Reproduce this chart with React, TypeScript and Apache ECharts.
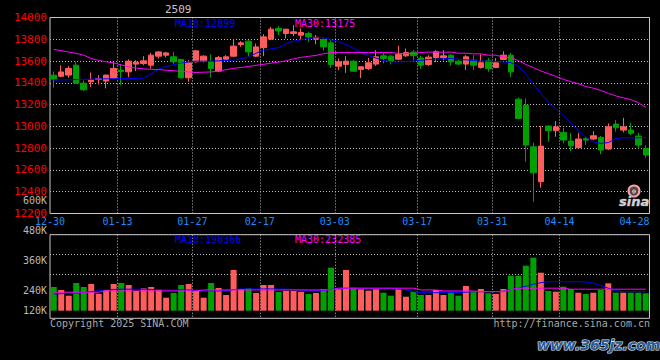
import React, { useEffect, useRef } from 'react';
import * as echarts from 'echarts';

const dates = [
  '12-30','12-31','01-02','01-03','01-06','01-07','01-08','01-09','01-10','01-13',
  '01-14','01-15','01-16','01-17','01-20','01-21','01-22','01-23','01-24','01-27',
  '02-05','02-06','02-07','02-10','02-11','02-12','02-13','02-14','02-17','02-18',
  '02-19','02-20','02-21','02-24','02-25','02-26','02-27','02-28','03-03','03-04',
  '03-05','03-06','03-07','03-10','03-11','03-12','03-13','03-14','03-17','03-18',
  '03-19','03-20','03-21','03-24','03-25','03-26','03-27','03-28','03-31','04-01',
  '04-02','04-03','04-07','04-08','04-09','04-10','04-11','04-14','04-15','04-16',
  '04-17','04-18','04-21','04-22','04-23','04-24','04-25','04-28','04-29','04-30',
];

const opens = [
  13470,13460,13471,13562,13397,13409,13431,13416,13440,13517,
  13501,13572,13578,13562,13645,13654,13639,13615,13446,13593,
  13599,13593,13507,13617,13645,13752,13783,13645,13723,13801,
  13899,13853,13853,13838,13853,13801,13798,13767,13553,13569,
  13599,13523,13532,13572,13648,13645,13617,13648,13682,13627,
  13569,13631,13631,13654,13599,13572,13608,13541,13602,13541,
  13615,13654,13250,13195,12813,12492,13003,12960,12945,12865,
  12804,12886,12884,12899,12792,13021,12966,12966,12911,12798,
];
const closes = [
  13435,13500,13532,13397,13336,13425,13440,13471,13532,13503,
  13599,13590,13602,13654,13684,13675,13593,13446,13584,13694,
  13645,13532,13633,13639,13737,13767,13684,13730,13822,13893,
  13877,13893,13868,13862,13822,13819,13730,13569,13593,13599,
  13507,13547,13584,13639,13624,13602,13661,13679,13650,13562,
  13636,13686,13648,13593,13572,13639,13562,13584,13532,13584,
  13654,13501,13073,12828,12574,12819,12960,12996,12874,12822,
  12884,12874,12914,12783,12996,12987,12996,12936,12828,12737,
];
const lows = [
  13355,13450,13446,13395,13324,13363,13385,13349,13436,13379,
  13452,13507,13562,13532,13624,13633,13572,13440,13409,13585,
  13587,13448,13498,13608,13636,13730,13645,13639,13645,13792,
  13838,13807,13831,13792,13776,13755,13694,13538,13517,13492,
  13501,13443,13517,13556,13578,13569,13608,13639,13608,13529,
  13556,13590,13608,13556,13562,13517,13517,13532,13501,13535,
  13608,13455,13067,12675,12308,12437,12859,12905,12844,12773,
  12800,12828,12874,12746,12783,12951,12945,12920,12798,12712,
];
const highs = [
  13505,13560,13553,13593,13422,13495,13470,13475,13593,13572,
  13615,13608,13645,13675,13690,13684,13684,13620,13608,13700,
  13654,13661,13648,13654,13801,13783,13790,13761,13847,13914,
  13920,13895,13929,13899,13868,13838,13807,13792,13624,13645,
  13608,13550,13629,13700,13679,13654,13740,13716,13700,13648,
  13654,13700,13700,13663,13608,13654,13654,13663,13627,13627,
  13691,13675,13266,13257,12850,13003,13010,13049,12987,12941,
  12941,12905,12957,12911,13028,13058,13079,13033,12941,12828,
];
const ma10 = [
  13425,13427,13428,13430,13432,13434,13436,13437,13438,13439,
  13439,13440,13443,13484,13526,13549,13567,13581,13592,13599,
  13599,13599,13602,13606,13608,13622,13638,13672,13700,13712,
  13723,13760,13783,13796,13808,13814,13815,13796,13780,13752,
  13718,13680,13650,13627,13606,13593,13593,13595,13599,13606,
  13614,13617,13621,13624,13617,13611,13605,13599,13599,13596,
  13593,13585,13553,13480,13388,13303,13223,13159,13099,13030,
  12960,12902,12859,12844,12851,12888,12895,12895,12895,12899,
];
const ma30 = [
  13708,13695,13683,13670,13654,13624,13606,13593,13583,13565,
  13546,13535,13528,13524,13522,13516,13511,13506,13500,13495,
  13498,13500,13507,13521,13533,13541,13550,13561,13570,13581,
  13590,13602,13621,13634,13643,13652,13668,13677,13679,13679,
  13679,13679,13679,13679,13679,13679,13670,13670,13670,13679,
  13682,13682,13682,13682,13672,13672,13666,13666,13654,13654,
  13636,13633,13604,13569,13539,13509,13484,13459,13432,13411,
  13392,13366,13351,13330,13304,13280,13262,13246,13218,13175,
];
const volumes = [
  254800,242800,220000,270800,254800,266800,226800,242800,266800,270800,
  262800,238800,249600,254800,245600,212000,230800,262800,266800,238800,
  212000,270800,250800,222800,322800,246800,249600,230800,262800,262800,
  234800,238800,238800,234800,226800,230800,246800,332000,245600,322800,
  252000,245600,240000,245600,232000,220000,245600,216000,236000,222800,
  222800,242800,222800,236000,220000,258800,238800,246800,229600,226800,
  246800,300000,300000,340000,372000,312000,238800,236000,256000,246800,
  232000,226800,232000,242800,269600,232000,232000,232000,232000,229600,
];
const volMa10 = [
  227000,228000,230000,231000,233000,236000,240000,244000,245000,246000,
  246000,246000,246000,245000,244000,243000,243000,243000,243000,242000,
  240000,239000,239000,240000,244000,247000,247000,247000,247000,247000,
  247000,246000,245000,242000,240000,240000,241000,245000,250000,250000,
  250000,250000,250000,250000,250000,250000,248000,244000,236000,232000,
  232000,232000,232000,232000,233000,234000,236000,236000,236000,236000,
  238000,244000,250000,258000,266000,272000,276000,276000,276000,276000,
  276000,275000,270000,260000,250000,240000,236000,236000,236000,236000,
];
const volMa30 = [
  234000,234000,234000,234000,234000,234000,234000,239000,239000,239000,
  239000,239000,239000,239000,239000,239000,239000,239000,239000,239000,
  243000,243000,243000,243000,243000,243000,243000,243000,243000,243000,
  243000,243000,243000,243000,243000,243000,243000,243000,250000,250000,
  250000,250000,250000,250000,250000,250000,250000,250000,250000,243000,
  243000,243000,239000,239000,239000,239000,239000,236000,236000,236000,
  236000,244000,250000,250000,250000,250000,250000,250000,250000,246000,
  246000,246000,246000,246000,246000,246000,246000,246000,246000,246000,
];

const xTickIndex = [0, 9, 19, 28, 38, 49, 59, 68, 78];
const xTickLabels = ['12-30', '01-13', '01-27', '02-17', '03-03', '03-17', '03-31', '04-14', '04-28'];
const gridLineIndex = [9, 19, 28, 38, 49, 59, 68];
const volTickValues = [120000, 240000, 360000, 480000, 600000];
const volTickLabels = ['120K', '240K', '360K', '480K', '600K'];
const titleText = '2509';
const priceLegend = ['MA10:12899', 'MA30:13175'];
const volumeLegend = ['MA10:190366', 'MA30:232385'];
const footerLeft = 'Copyright 2025 SINA.COM';
const footerRight = 'http://finance.sina.com.cn';
const watermark = 'www.365jz.com';

export default function App() {
  const ref = useRef<HTMLDivElement>(null);
  useEffect(() => {
    document.body.style.margin = '0';
    document.body.style.background = '#000';
    const chart = echarts.init(ref.current!, null, { renderer: 'svg' });
    const mono = '"DejaVu Sans Mono", monospace';
    const upColor = '#ff5c5c';
    const downColor = '#00a000';
    const dotted = { show: true, lineStyle: { color: '#bdbdbd', type: [1, 2], width: 1 } };
    const candleData = opens.map((o, i) => [o, closes[i], lows[i], highs[i]]);
    const volData = volumes.map((v, i) => ({
      value: v,
      itemStyle: { color: closes[i] >= opens[i] ? upColor : downColor },
    }));
    const L = 50;
    const W = 599.5;
    const txt = (text: string, x: number, y: number, fill: string, font: string, align = 'left') => ({
      type: 'text', x, y, silent: true,
      style: { text, fill, font, align, verticalAlign: 'middle', textAlign: align, textVerticalAlign: 'middle' },
    });

    const option: any = {
      animation: false,
      backgroundColor: '#000',
      grid: [
        { left: L, top: 17.5, width: W, height: 196, show: true, borderColor: '#c8c8c8', borderWidth: 1, backgroundColor: 'transparent' },
        { left: L, top: 234.7, width: W, height: 76 },
        { left: L, top: 234.7, width: W, height: 83.6, show: true, borderColor: '#c8c8c8', borderWidth: 1, backgroundColor: 'transparent' },
        { left: L, top: 234.7, width: W, height: 40 },
        { left: L, top: 200.7, width: W, height: 150 },
      ],
      xAxis: [
        {
          type: 'category', gridIndex: 0, data: dates, boundaryGap: true,
          axisLine: { show: false }, axisTick: { show: false },
          axisLabel: {
            interval: (i: number) => xTickIndex.includes(i),
            formatter: (_v: string, i: number) => {
              const k = xTickIndex.indexOf(i);
              return k >= 0 ? xTickLabels[k] : '';
            },
            color: '#1a8cff', fontFamily: mono, fontSize: 10, margin: 3, padding: [0, 7.5, 0, 0],
          },
          splitLine: { ...dotted, interval: (i: number) => gridLineIndex.includes(i) },
        },
        { type: 'category', gridIndex: 1, data: dates, boundaryGap: true, show: false },
        {
          type: 'category', gridIndex: 2, data: dates, boundaryGap: true,
          axisLine: { show: false }, axisTick: { show: false }, axisLabel: { show: false },
          splitLine: { ...dotted, interval: (i: number) => gridLineIndex.includes(i) },
        },
        { type: 'value', gridIndex: 3, show: false, min: 0, max: 1 },
        { type: 'value', gridIndex: 4, show: false, min: 0, max: 1 },
      ],
      yAxis: [
        {
          type: 'value', gridIndex: 0, min: 12200, max: 14000, interval: 200,
          axisLine: { show: false }, axisTick: { show: false },
          axisLabel: {
            color: '#ff0000', fontFamily: mono, fontSize: 11, margin: 3, padding: [0, 0, 3, 0],
            formatter: (v: number) => String(v),
          },
          splitLine: dotted,
        },
        { type: 'value', gridIndex: 1, min: 160000, max: 464000, show: false },
        { type: 'value', gridIndex: 2, min: 0, max: 1, show: false },
        {
          type: 'value', gridIndex: 3, min: 0, max: 2, interval: 1,
          axisLine: { show: false }, axisTick: { show: false }, axisLabel: { show: false },
          splitLine: dotted,
        },
        {
          type: 'value', gridIndex: 4, min: 0, max: 600000, interval: 120000,
          axisLine: { show: false }, axisTick: { show: false }, splitLine: { show: false },
          axisLabel: {
            color: '#b8b8b8', fontFamily: mono, fontSize: 10, margin: 3,
            formatter: (v: number) => {
              const k = volTickValues.indexOf(v);
              if (k < 0) return '';
              if (v === 120000) return '{up|' + volTickLabels[k] + '}';
              return volTickLabels[k];
            },
            rich: { up: { color: '#b8b8b8', fontFamily: mono, fontSize: 10, padding: [0, 0, 20, 0] } },
          },
        },
      ],
      series: [
        {
          type: 'candlestick', xAxisIndex: 0, yAxisIndex: 0, data: candleData, barWidth: 6,
          itemStyle: { color: upColor, color0: downColor, borderColor: upColor, borderColor0: downColor, borderWidth: 1 },
        },
        {
          type: 'line', xAxisIndex: 0, yAxisIndex: 0, data: ma10, symbol: 'none', showSymbol: false,
          lineStyle: { color: '#0000ff', width: 1 }, itemStyle: { color: '#0000ff' },
        },
        {
          type: 'line', xAxisIndex: 0, yAxisIndex: 0, data: ma30, symbol: 'none', showSymbol: false,
          lineStyle: { color: '#ff00ff', width: 1 }, itemStyle: { color: '#ff00ff' },
        },
        { type: 'bar', xAxisIndex: 1, yAxisIndex: 1, data: volData, barWidth: 6 },
        {
          type: 'line', xAxisIndex: 1, yAxisIndex: 1, data: volMa10, symbol: 'none', showSymbol: false,
          lineStyle: { color: '#0000ff', width: 1 }, itemStyle: { color: '#0000ff' },
        },
        {
          type: 'line', xAxisIndex: 1, yAxisIndex: 1, data: volMa30, symbol: 'none', showSymbol: false,
          lineStyle: { color: '#ff00ff', width: 1 }, itemStyle: { color: '#ff00ff' },
        },
      ],
      graphic: [
        txt(titleText, 165, 9, '#c8c8c8', '11px ' + mono),
        txt(priceLegend[0], 175, 23.5, '#0000ff', '10px ' + mono),
        txt(priceLegend[1], 295, 23.5, '#ff00ff', '10px ' + mono),
        txt(volumeLegend[0], 175, 239, '#0000ff', '10px ' + mono),
        txt(volumeLegend[1], 295, 239, '#ff00ff', '10px ' + mono),
        txt(footerLeft, 50, 323.5, '#a8a8a8', '10px ' + mono),
        txt(footerRight, 650, 323.5, '#a8a8a8', '10px ' + mono, 'right'),
        {
          type: 'text', x: 537, y: 345, silent: true,
          style: {
            text: watermark, fill: '#2b5c98', stroke: '#dfe8f2', lineWidth: 1.2,
            font: 'italic bold 14px "DejaVu Sans"', verticalAlign: 'middle', textVerticalAlign: 'middle',
          },
        },
        {
          type: 'circle', silent: true, shape: { cx: 634, cy: 191, r: 5.5 },
          style: { fill: 'rgba(255,190,190,0.35)', stroke: '#f2a3ab', lineWidth: 2 },
        },
        {
          type: 'circle', silent: true, shape: { cx: 634, cy: 191.5, r: 2.2 },
          style: { fill: '#9a9a9a' },
        },
        {
          type: 'text', x: 619, y: 201, silent: true,
          style: {
            text: 'sina', fill: '#d2d2d2', stroke: '#8a8a8a', lineWidth: 0.6,
            font: 'italic bold 13px "DejaVu Sans"', verticalAlign: 'middle', textVerticalAlign: 'middle',
          },
        },
      ],
    };
    chart.setOption(option);
    return () => chart.dispose();
  }, []);
  return <div ref={ref} style={{ width: 660, height: 360, background: '#000' }} />;
}
